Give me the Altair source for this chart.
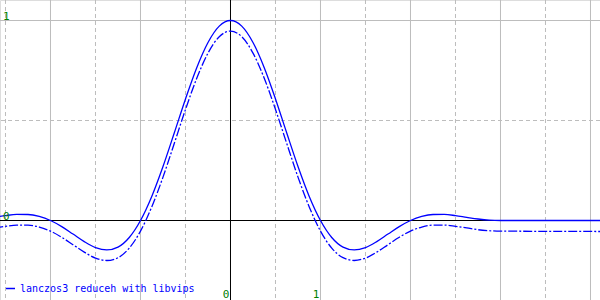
import altair as alt
import pandas as pd

# ---- data ----
xs = [-2.625, -2.5, -2.375, -2.25, -2.125, -2.0, -1.875, -1.75, -1.625, -1.5,
      -1.375, -1.25, -1.125, -1.0, -0.875, -0.75, -0.625, -0.5, -0.375, -0.25,
      -0.125, 0.0, 0.125, 0.25, 0.375, 0.5, 0.625, 0.75, 0.875, 1.0,
      1.125, 1.25, 1.375, 1.5, 1.625, 1.75, 1.875, 2.0, 2.125, 2.25,
      2.375, 2.5, 2.625, 2.75, 2.875, 3.0, 4.2]
solid = [0.0156, 0.0243, 0.0303, 0.0300, 0.0204, 0.0, -0.0306, -0.0678, -0.1054, -0.1351,
         -0.1473, -0.1329, -0.0849, 0.0, 0.1205, 0.2702, 0.4376, 0.6079, 0.7642, 0.8900,
         0.9717, 1.0, 0.9717, 0.8900, 0.7642, 0.6079, 0.4376, 0.2702, 0.1205, 0.0,
         -0.0849, -0.1329, -0.1473, -0.1351, -0.1054, -0.0678, -0.0306, 0.0, 0.0204, 0.0300,
         0.0303, 0.0243, 0.0156, 0.0074, 0.0018, 0.0, 0.0]
dashed = [-0.037, -0.029, -0.023, -0.023, -0.033, -0.053, -0.084, -0.121, -0.158, -0.188,
          -0.200, -0.186, -0.138, -0.053, 0.068, 0.217, 0.385, 0.555, 0.711, 0.837,
          0.919, 0.947, 0.919, 0.837, 0.711, 0.555, 0.385, 0.217, 0.068, -0.053,
          -0.138, -0.186, -0.200, -0.188, -0.158, -0.121, -0.084, -0.053, -0.033, -0.023,
          -0.023, -0.029, -0.037, -0.046, -0.051, -0.053, -0.055]
series_name = "lanczos3 reduceh with libvips"

grid_solid_x = [-2, -1, 1, 2, 3, 4]
grid_dashed_x = [-2.5, -1.5, -0.5, 0.5, 1.5, 2.5, 3.5]
grid_solid_y = [1]
grid_dashed_y = [0.5]
x_tick_vals = [0, 1]
x_tick_labels = ["0", "1"]
y_tick_vals = [1, 0]
y_tick_labels = ["1", "0"]

X_DOMAIN = [-2.5611, 4.1056]
Y_DOMAIN = [-0.3975, 1.1025]

xsc = alt.Scale(domain=X_DOMAIN, nice=False, zero=False)
ysc = alt.Scale(domain=Y_DOMAIN, nice=False, zero=False)

curve_df = pd.DataFrame({"x": xs, "solid": solid, "dashed": dashed, "series": series_name})

GRID = "#bdbdbd"

g_vs = alt.Chart(pd.DataFrame({"x": grid_solid_x})).mark_rule(color=GRID, strokeWidth=1).encode(
    x=alt.X("x:Q", scale=xsc, axis=None))
g_vd = alt.Chart(pd.DataFrame({"x": grid_dashed_x})).mark_rule(color=GRID, strokeWidth=1, strokeDash=[4, 3]).encode(
    x=alt.X("x:Q", scale=xsc, axis=None))
g_hs = alt.Chart(pd.DataFrame({"y": grid_solid_y})).mark_rule(color=GRID, strokeWidth=1).encode(
    y=alt.Y("y:Q", scale=ysc, axis=None))
g_hd = alt.Chart(pd.DataFrame({"y": grid_dashed_y})).mark_rule(color=GRID, strokeWidth=1, strokeDash=[4, 3]).encode(
    y=alt.Y("y:Q", scale=ysc, axis=None))
ax_x = alt.Chart(pd.DataFrame({"x": [0]})).mark_rule(color="black", strokeWidth=1).encode(
    x=alt.X("x:Q", scale=xsc, axis=None))
ax_y = alt.Chart(pd.DataFrame({"y": [0]})).mark_rule(color="black", strokeWidth=1).encode(
    y=alt.Y("y:Q", scale=ysc, axis=None))

line_solid = alt.Chart(curve_df).mark_line(strokeWidth=1.3, interpolate="monotone", clip=True).encode(
    x=alt.X("x:Q", scale=xsc, axis=None),
    y=alt.Y("solid:Q", scale=ysc, axis=None),
    color=alt.Color("series:N", scale=alt.Scale(domain=[series_name], range=["#0000ff"]),
                    legend=alt.Legend(orient="none", legendX=5, legendY=283, title=None,
                                      symbolType="stroke", symbolSize=81, symbolStrokeWidth=1.5,
                                      labelFont="DejaVu Sans Mono", labelFontSize=10,
                                      labelColor="#0000ff", labelOffset=4, labelLimit=400,
                                      padding=0)),
)
line_dashed = alt.Chart(curve_df).mark_line(strokeWidth=1.3, interpolate="monotone", clip=True,
                                            color="#0000ff", strokeDash=[9, 2, 2, 2]).encode(
    x=alt.X("x:Q", scale=xsc, axis=None),
    y=alt.Y("dashed:Q", scale=ysc, axis=None),
)

xlab = alt.Chart(pd.DataFrame({"x": x_tick_vals, "t": x_tick_labels})).mark_text(
    font="DejaVu Sans Mono", fontSize=11, color="#008000", align="right", baseline="alphabetic", dx=-1
).encode(x=alt.X("x:Q", scale=xsc, axis=None), y=alt.value(298), text="t:N")

ylab = alt.Chart(pd.DataFrame({"y": y_tick_vals, "t": y_tick_labels})).mark_text(
    font="DejaVu Sans Mono", fontSize=11, color="#008000", align="left", baseline="alphabetic", dy=-1
).encode(x=alt.value(3), y=alt.Y("y:Q", scale=ysc, axis=None), text="t:N")

chart = alt.layer(g_vs, g_vd, g_hs, g_hd, ax_x, ax_y, line_solid, line_dashed, xlab, ylab).properties(
    width=600, height=300, padding=0, autosize="none"
).configure_view(stroke="#90c890", strokeWidth=2).configure(background="white")

chart.save("out.html", embed_options={"renderer": "svg", "actions": False})
